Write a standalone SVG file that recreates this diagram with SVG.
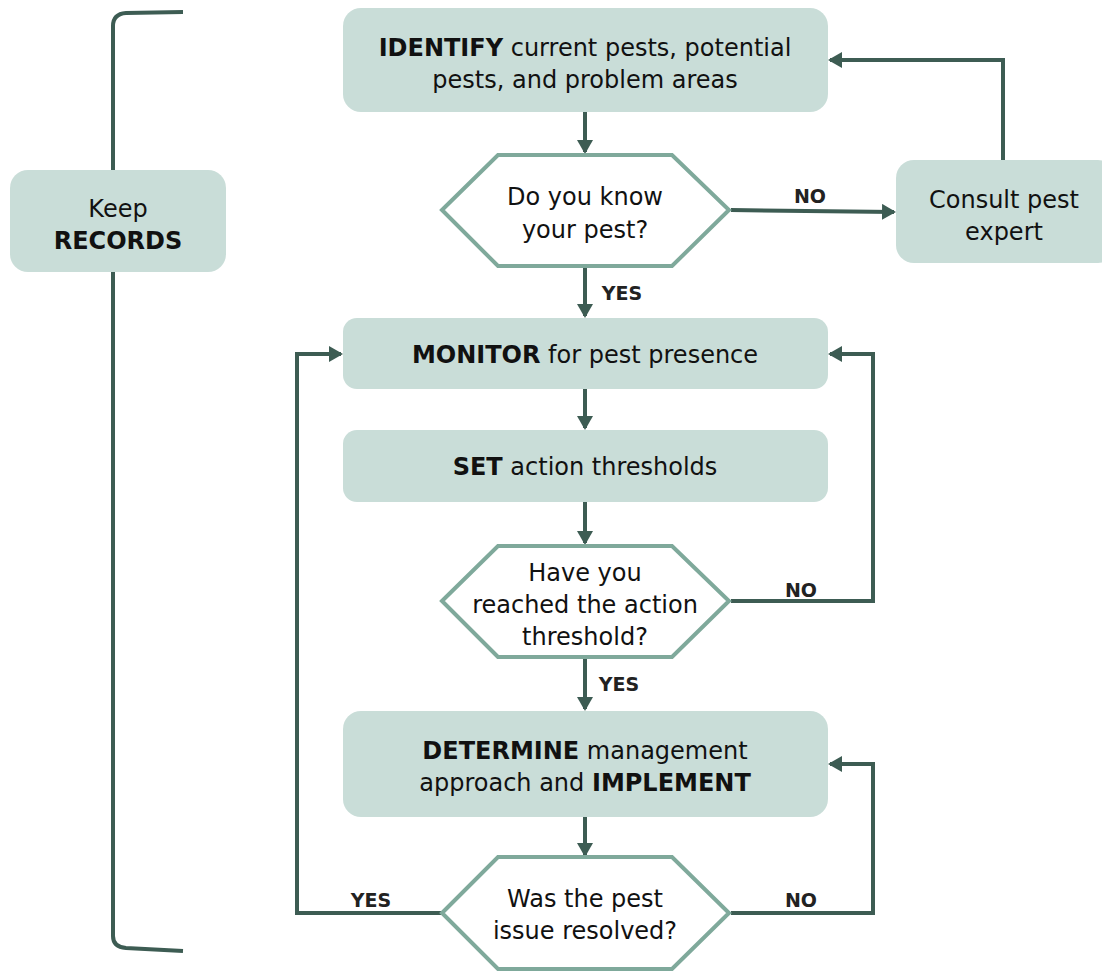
<svg xmlns="http://www.w3.org/2000/svg" width="1102" height="971" viewBox="0 0 1102 971">
<style>
.box{fill:#c9ddd8;}
.hex{fill:#ffffff;stroke:#7fa99b;stroke-width:4;stroke-linejoin:miter;}
.t{font-family:"DejaVu Sans","Liberation Sans",sans-serif;font-size:24px;fill:#111;text-anchor:middle;}
.b{font-weight:bold;}
.lbl{font-family:"DejaVu Sans","Liberation Sans",sans-serif;font-size:19px;font-weight:bold;fill:#222;text-anchor:middle;}
.c{fill:none;stroke:#3d5c53;stroke-width:4;}
.br{fill:none;stroke:#3d5c53;stroke-width:4;stroke-linecap:butt;}
</style>
<defs>
<marker id="ah" markerUnits="userSpaceOnUse" markerWidth="14" markerHeight="16" viewBox="0 0 14 16" refX="12" refY="8" orient="auto">
<path d="M0,0 L14,8 L0,16 z" fill="#3d5c53"/>
</marker>
</defs>
<g id="bracket">
<path class="br" d="M183,12 L126,13 Q113,14 113,26 L113,936 Q113,947 126,948 L183,951"/>
</g>
<g id="connectors">
<path class="c" d="M585,112 L585,152" marker-end="url(#ah)"/>
<path class="c" d="M731,210 L894,212" marker-end="url(#ah)"/>
<path class="c" d="M1003,160 L1003,60 L830,60" marker-end="url(#ah)"/>
<path class="c" d="M585,267 L585,316" marker-end="url(#ah)"/>
<path class="c" d="M585,389 L585,428" marker-end="url(#ah)"/>
<path class="c" d="M585,502 L585,543" marker-end="url(#ah)"/>
<path class="c" d="M731,601 L873,601 L873,354 L830,354" marker-end="url(#ah)"/>
<path class="c" d="M585,657 L585,709" marker-end="url(#ah)"/>
<path class="c" d="M585,817 L585,855" marker-end="url(#ah)"/>
<path class="c" d="M731,913 L873,913 L873,764 L830,764" marker-end="url(#ah)"/>
<path class="c" d="M441,913 L297,913 L297,354 L341,354" marker-end="url(#ah)"/>
<text class="lbl" x="810" y="203">NO</text>
<text class="lbl" x="622" y="300">YES</text>
<text class="lbl" x="801" y="597">NO</text>
<text class="lbl" x="619" y="691">YES</text>
<text class="lbl" x="371" y="907">YES</text>
<text class="lbl" x="801" y="907">NO</text>
</g>
<g id="records">
<rect class="box" x="10" y="170" width="216" height="102" rx="18"/>
<text class="t" x="118" y="217">Keep</text>
<text class="t b" x="118" y="249">RECORDS</text>
</g>
<g id="identify">
<rect class="box" x="343" y="8" width="485" height="104" rx="18"/>
<text class="t" x="585" y="56"><tspan class="b">IDENTIFY</tspan> current pests, potential</text>
<text class="t" x="585" y="88">pests, and problem areas</text>
</g>
<g id="know">
<polygon class="hex" points="442,210 498,155 672,155 729,210 672,266 498,266"/>
<text class="t" x="585" y="205">Do you know</text>
<text class="t" x="585" y="238">your pest?</text>
</g>
<g id="consult">
<rect class="box" x="896" y="160" width="220" height="103" rx="18"/>
<text class="t" x="1004" y="208">Consult pest</text>
<text class="t" x="1004" y="240">expert</text>
</g>
<g id="monitor">
<rect class="box" x="343" y="318" width="485" height="71" rx="14"/>
<text class="t" x="585" y="363"><tspan class="b">MONITOR</tspan> for pest presence</text>
</g>
<g id="set">
<rect class="box" x="343" y="430" width="485" height="72" rx="14"/>
<text class="t" x="585" y="475"><tspan class="b">SET</tspan> action thresholds</text>
</g>
<g id="threshold">
<polygon class="hex" points="442,601 498,546 672,546 729,601 672,657 498,657"/>
<text class="t" x="585" y="581">Have you</text>
<text class="t" x="585" y="613">reached the action</text>
<text class="t" x="585" y="645">threshold?</text>
</g>
<g id="determine">
<rect class="box" x="343" y="711" width="485" height="106" rx="18"/>
<text class="t" x="585" y="759"><tspan class="b">DETERMINE</tspan> management</text>
<text class="t" x="585" y="791">approach and <tspan class="b">IMPLEMENT</tspan></text>
</g>
<g id="resolved">
<polygon class="hex" points="442,913 498,857 672,857 729,913 672,969 498,969"/>
<text class="t" x="585" y="907">Was the pest</text>
<text class="t" x="585" y="939">issue resolved?</text>
</g>
</svg>
